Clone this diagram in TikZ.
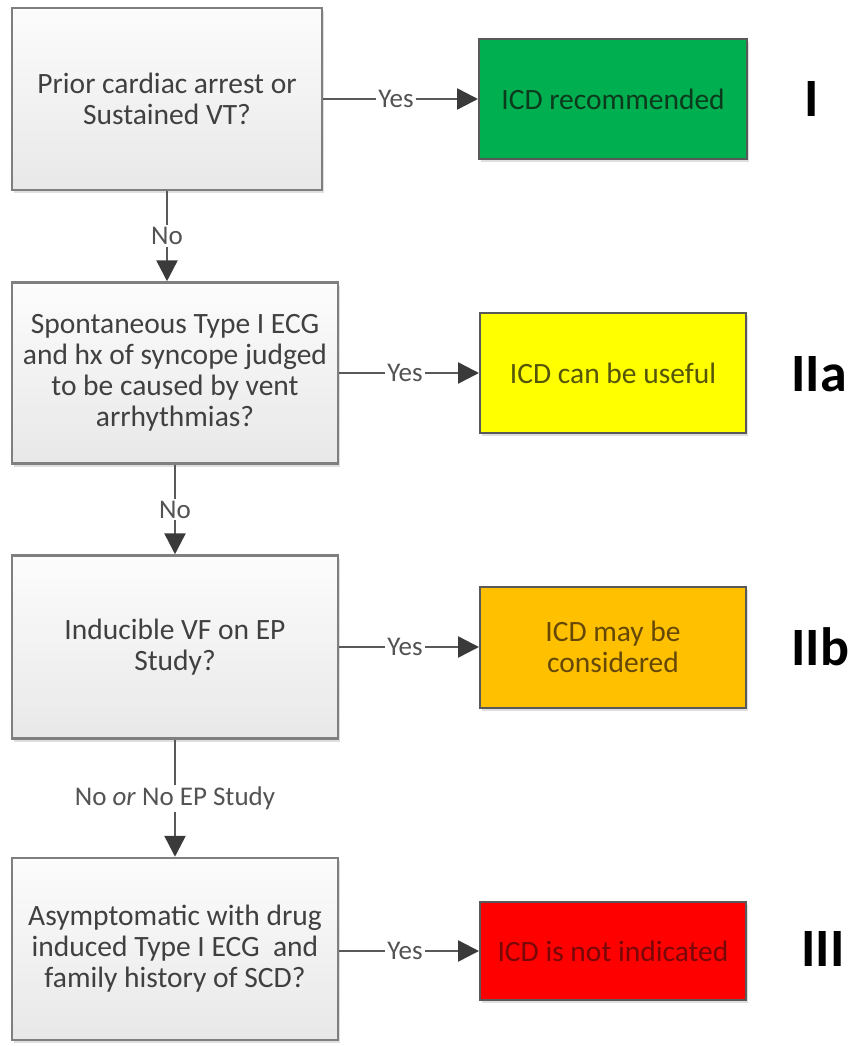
\documentclass[tikz,border=0pt]{standalone}
\usepackage{fontspec}
\setmainfont{Carlito}
\usetikzlibrary{arrows.meta,shadows}
\definecolor{qtext}{HTML}{404040}
\definecolor{qborder}{HTML}{7F7F7F}
\definecolor{qtop}{HTML}{FCFCFC}
\definecolor{qbot}{HTML}{E8E8E8}
\definecolor{linec}{HTML}{595959}
\definecolor{tipc}{HTML}{3A3A3A}
\definecolor{cgreen}{HTML}{00B050}
\definecolor{cyellow}{HTML}{FFFF00}
\definecolor{corange}{HTML}{FFC000}
\definecolor{cred}{HTML}{FF0000}
\definecolor{tgreen}{HTML}{0B3A1C}
\definecolor{tyellow}{HTML}{55550A}
\definecolor{torange}{HTML}{654805}
\definecolor{tred}{HTML}{780808}
\tikzset{
  qbox/.style={draw=qborder, line width=2.5pt, top color=qtop, bottom color=qbot,
    text=qtext, align=center, font=\fontsize{29.5}{31}\selectfont,
    drop shadow={shadow xshift=2pt, shadow yshift=-3pt, opacity=0.25}},
  abox/.style={draw=black!65, line width=2pt, align=center,
    font=\fontsize{29.5}{31}\selectfont,
    drop shadow={shadow xshift=2pt, shadow yshift=-3pt, opacity=0.25}},
  conn/.style={draw=linec, line width=2.5pt,
    -{Triangle[length=21pt,width=21pt,color=tipc]}},
  lbl/.style={fill=white, text=qtext!90, inner sep=2pt, font=\fontsize{27}{30}\selectfont},
  cls/.style={anchor=base west, inner sep=0pt, font=\fontsize{54}{58}\selectfont\bfseries, text=black}
}
\begin{document}
\begin{tikzpicture}[x=1pt,y=-1pt]
\useasboundingbox (0,0) rectangle (848,1046);
% question boxes
\node[qbox, minimum width=310pt, minimum height=182pt] (q1) at (167,99)
  {Prior cardiac arrest or\\Sustained VT?};
\node[qbox, minimum width=326pt, minimum height=181pt] (q2) at (175,373)
  {Spontaneous Type I ECG\\and hx of syncope judged\\to be caused by vent\\arrhythmias?};
\node[qbox, minimum width=326pt, minimum height=183pt] (q3) at (175,647)
  {Inducible VF on EP\\Study?};
\node[qbox, minimum width=326pt, minimum height=182pt] (q4) at (175,949)
  {Asymptomatic with drug\\induced Type I ECG\ \ and\\family history of SCD?};
% answer boxes
\node[abox, fill=cgreen, text=tgreen, minimum width=268pt, minimum height=119pt] (a1) at (613,99) {ICD recommended};
\node[abox, fill=cyellow, text=tyellow, minimum width=266pt, minimum height=120pt] (a2) at (613,373) {ICD can be useful};
\node[abox, fill=corange, text=torange, minimum width=266pt, minimum height=121pt] (a3) at (613,647) {ICD may be\\considered};
\node[abox, fill=cred, text=tred, minimum width=266pt, minimum height=98pt] (a4) at (613,951) {ICD is not indicated};
% class labels
\node[cls] (c1) at (804,117) {I};
\node[cls] (c2) at (791,391) {IIa};
\node[cls] (c3) at (791,665) {IIb};
\node[cls] (c4) at (801,966) {III};
% yes connectors
\foreach \i in {1,2,3,4}{
  \draw[conn] (q\i.east |- a\i.west) -- node[lbl, pos=0.47] {Yes} (a\i.west);
}
% no connectors
\draw[conn] (q1.south) -- node[lbl, pos=0.5] {No} (q1.south |- q2.north);
\draw[conn] (q2.south) -- node[lbl, pos=0.5] {No} (q3.north);
\draw[conn] (q3.south) -- node[lbl, pos=0.5] {No \textit{or} No EP Study} (q4.north);
\end{tikzpicture}
\end{document}
